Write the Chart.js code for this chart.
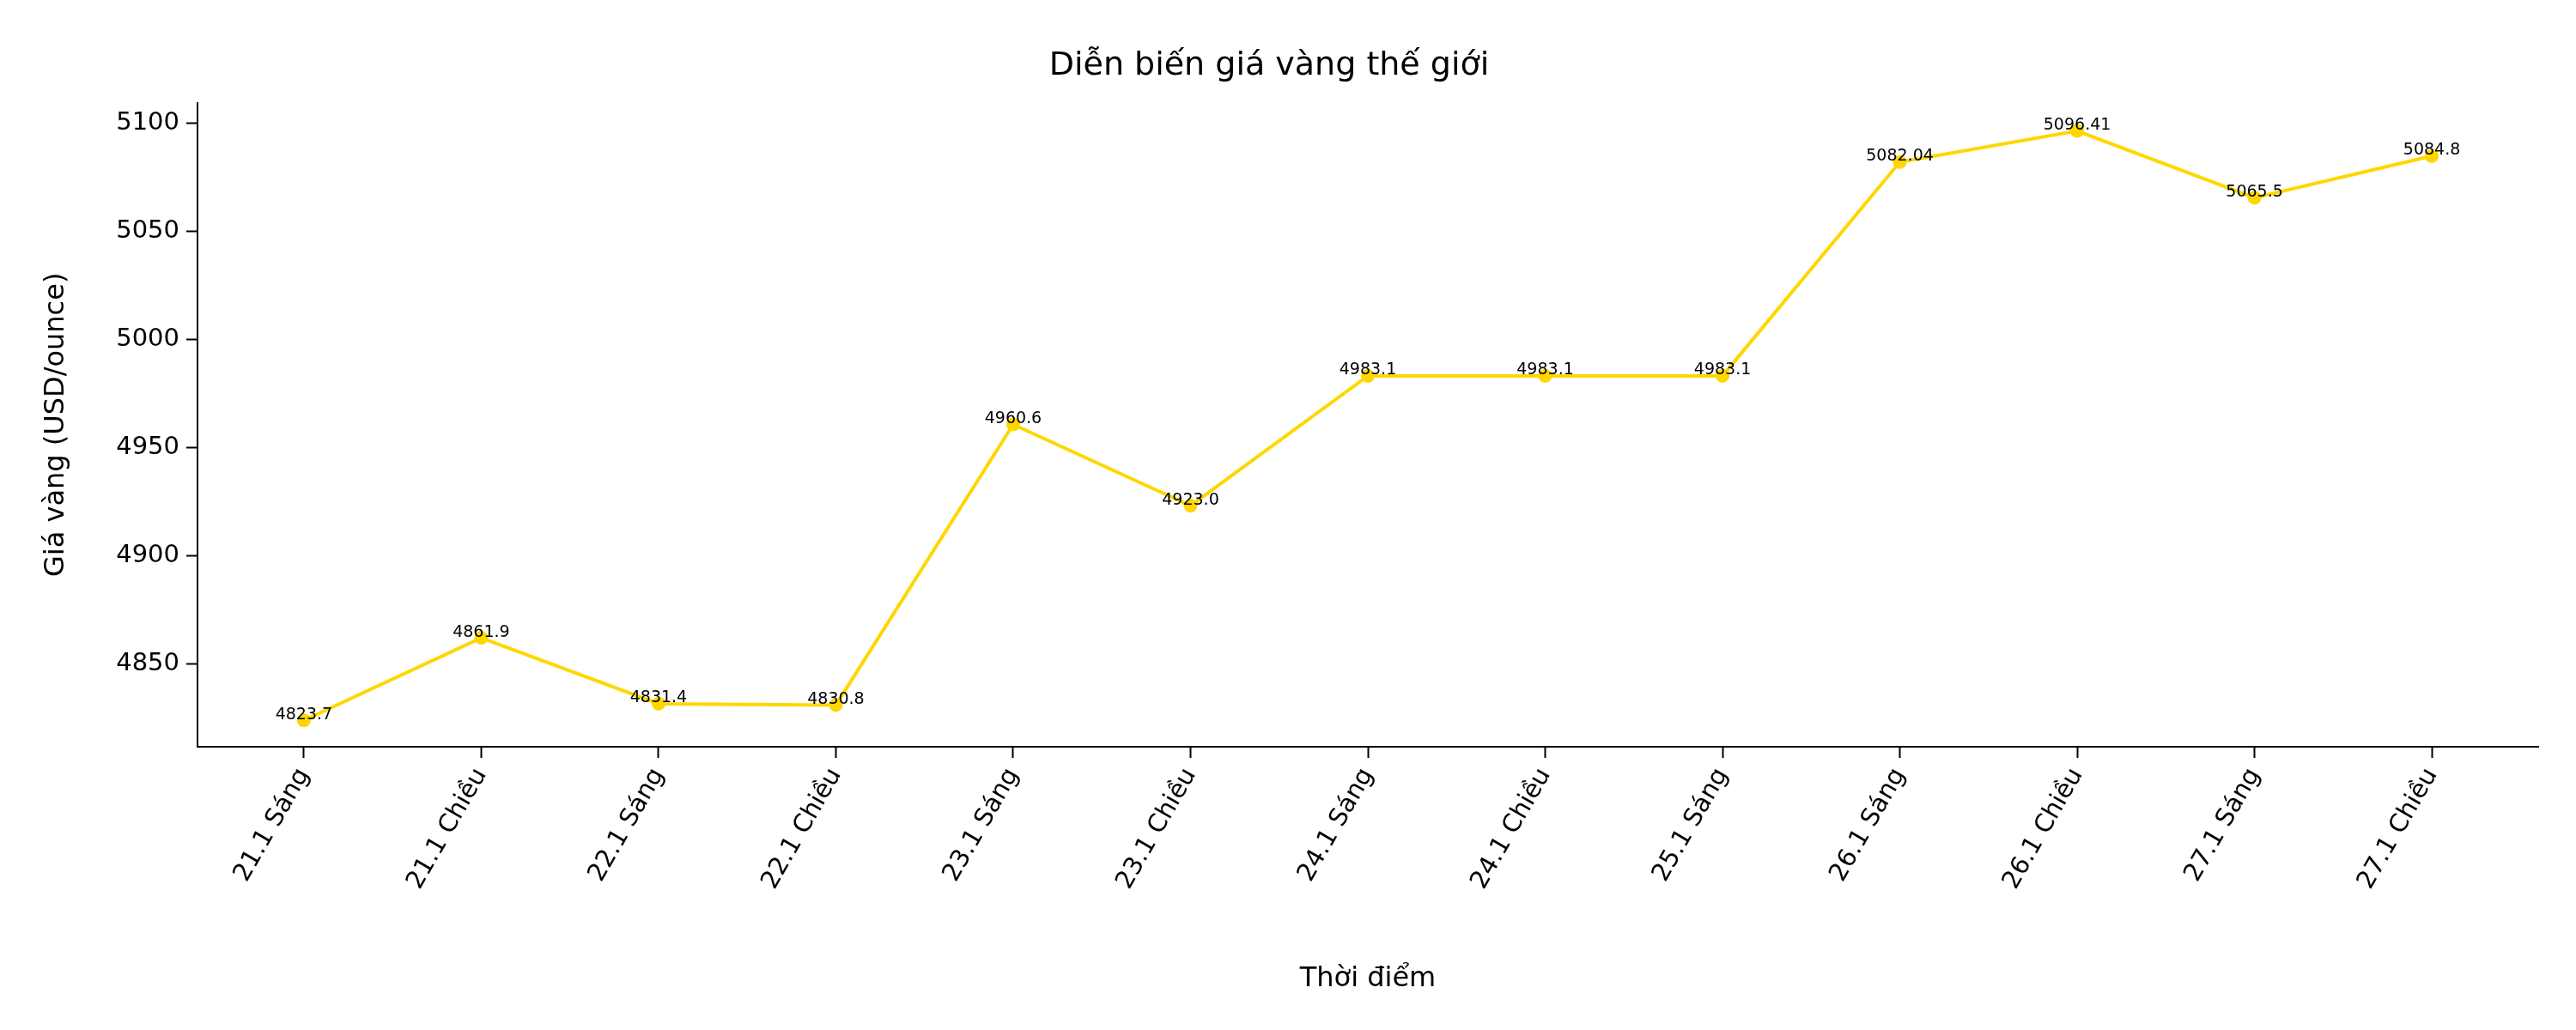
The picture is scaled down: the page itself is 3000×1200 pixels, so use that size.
<!DOCTYPE html>
<html><head><meta charset="utf-8">
<script src="https://cdn.jsdelivr.net/npm/chart.js@4"></script>
<style>body{margin:0;background:#fff}</style></head>
<body><canvas id="c" width="3000" height="1200"></canvas>
<script>
const categories = ["21.1 Sáng","21.1 Chiều","22.1 Sáng","22.1 Chiều","23.1 Sáng","23.1 Chiều","24.1 Sáng","24.1 Chiều","25.1 Sáng","26.1 Sáng","26.1 Chiều","27.1 Sáng","27.1 Chiều"];
const prices = [4823.7,4861.9,4831.4,4830.8,4960.6,4923.0,4983.1,4983.1,4983.1,5082.04,5096.41,5065.5,5084.8];
const priceLabels = ["4823.7","4861.9","4831.4","4830.8","4960.6","4923.0","4983.1","4983.1","4983.1","5082.04","5096.41","5065.5","5084.8"];
const yTicks = [4850,4900,4950,5000,5050,5100];

const FONT = "'DejaVu Sans', sans-serif";
const labelPlugin = {
  id:'vlabels',
  afterDatasetsDraw(chart){
    const ctx=chart.ctx, meta=chart.getDatasetMeta(0);
    ctx.save(); ctx.fillStyle='#000'; ctx.font='19px '+FONT; ctx.textAlign='center'; ctx.textBaseline='bottom';
    meta.data.forEach((p,i)=>ctx.fillText(priceLabels[i],p.x,p.y+3));
    ctx.restore();
  }
};
new Chart(document.getElementById('c'),{
  type:'line',
  data:{datasets:[{data:prices.map((v,i)=>({x:i,y:v})),borderColor:'#FFD700',backgroundColor:'#FFD700',borderWidth:4,pointRadius:8,pointBorderWidth:0,tension:0}]},
  options:{responsive:false,devicePixelRatio:1,animation:false,
    layout:{padding:{left:0,right:44,top:0,bottom:0}},
    plugins:{legend:{display:false},tooltip:{enabled:false},
      title:{display:true,text:'Diễn biến giá vàng thế giới',color:'#000',font:{family:FONT,size:38,weight:'normal'},padding:{top:54,bottom:20}}},
    scales:{
      x:{type:'linear',min:-0.6,max:12.6,
        afterBuildTicks:s=>{s.ticks=categories.map((c,i)=>({value:i}));},
        afterFit:s=>{s.height=330;},
        ticks:{callback:(v)=>categories[v],color:'#000',font:{family:FONT,size:29},maxRotation:60,minRotation:60,autoSkip:false,padding:6},
        grid:{drawOnChartArea:false,tickLength:13,color:'#000',tickWidth:2},
        border:{color:'#000',width:2},
        title:{display:true,text:'Thời điểm',color:'#000',font:{family:FONT,size:32},padding:{top:10,bottom:40}}},
      y:{min:4811.5,max:5109.5,
        afterBuildTicks:s=>{s.ticks=yTicks.map(v=>({value:v}));},
        afterFit:s=>{s.width=230;},
        ticks:{callback:v=>String(v),color:'#000',font:{family:FONT,size:29},padding:8},
        grid:{drawOnChartArea:false,tickLength:13,color:'#000',tickWidth:2},
        border:{color:'#000',width:2},
        title:{display:true,text:'Giá vàng (USD/ounce)',color:'#000',font:{family:FONT,size:32},padding:{top:46,bottom:10}}}
    }},
  plugins:[labelPlugin]
});
</script></body></html>
